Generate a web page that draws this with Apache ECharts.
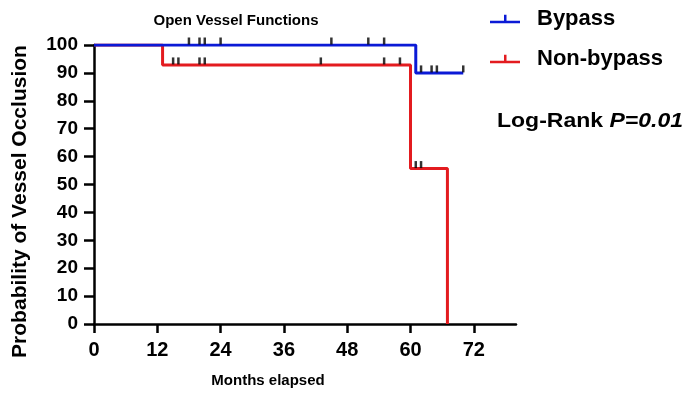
<!DOCTYPE html>
<html><head><meta charset="utf-8">
<script src="https://cdn.jsdelivr.net/npm/echarts@6/dist/echarts.min.js"></script>
<style>html,body{margin:0;padding:0;background:#fff}#c{width:685px;height:393px}</style>
</head><body><div id="c"></div>
<script>
// Kaplan-Meier step data
const bypassTimes = [0, 61, 70];
const bypassSurv = [100, 90, 90];
const nonBypassTimes = [0, 13, 60, 67];
const nonBypassSurv = [100, 92.86, 55.71, 0];
// censored observations
const bypassCensorTimes = [18, 20, 21, 24, 45, 52, 55, 62, 64, 65, 70];
const bypassCensorSurv = [100, 100, 100, 100, 100, 100, 100, 90, 90, 90, 90];
const nonBypassCensorTimes = [15, 16, 20, 21, 43, 55, 58, 61, 62];
const nonBypassCensorSurv = [92.86, 92.86, 92.86, 92.86, 92.86, 92.86, 92.86, 55.71, 55.71];
const xTicks = [0, 12, 24, 36, 48, 60, 72];
const seriesNames = ['Bypass', 'Non-bypass'];

const zip = (a, b) => a.map((v, i) => [v, b[i]]);
const FONT = 'Liberation Sans, Arial, sans-serif';
const BLUE = '#0b1ad6', RED = '#e31b1f';
const legendIcon = 'path://M0,9 L30,9 L30,11.5 L0,11.5 Z M14,3 L16.5,3 L16.5,9 L14,9 Z';

const chart = echarts.init(document.getElementById('c'));
chart.setOption({
  animation: false,
  backgroundColor: '#fff',
  title: {
    text: 'Open Vessel Functions', left: 231, top: 8, textAlign: 'center',
    textStyle: { fontFamily: FONT, fontWeight: 'bold', fontSize: 15, color: '#000' }
  },
  legend: {
    data: seriesNames.map(n => ({ name: n, icon: legendIcon })),
    orient: 'vertical', left: 485, top: 3, itemWidth: 30, itemHeight: 20, itemGap: 18,
    textStyle: { fontFamily: FONT, fontWeight: 'bold', fontSize: 22, color: '#000', padding: [0, 0, 0, 12] }
  },
  graphic: [{
    type: 'text', x: 497, y: 121, scaleX: 1.15, originX: 0,
    style: {
      text: '{a|Log-Rank }{b|P=0.01}', verticalAlign: 'middle',
      rich: {
        a: { fontFamily: FONT, fontWeight: 'bold', fontSize: 20, fill: '#000' },
        b: { fontFamily: FONT, fontWeight: 'bold', fontStyle: 'italic', fontSize: 20, fill: '#000' }
      }
    }
  }],
  grid: { left: 94, right: 169, top: 45, bottom: 66, containLabel: false },
  xAxis: {
    type: 'value', min: 0, max: 80,
    name: 'Months elapsed', nameLocation: 'middle', nameGap: 49,
    nameTextStyle: { fontFamily: FONT, fontWeight: 'bold', fontSize: 15, color: '#000', padding: [0, 74, 0, 0] },
    axisLine: { lineStyle: { color: '#000', width: 2.5 } },
    axisTick: { customValues: xTicks, length: 9, lineStyle: { color: '#000', width: 2.5 } },
    axisLabel: { customValues: xTicks, fontFamily: FONT, fontWeight: 'bold', fontSize: 20, color: '#000', margin: 16 },
    splitLine: { show: false }
  },
  yAxis: {
    type: 'value', min: 0, max: 100, interval: 10,
    name: 'Probability of Vessel Occlusion', nameLocation: 'middle', nameGap: 63,
    nameTextStyle: { fontFamily: FONT, fontWeight: 'bold', fontSize: 21, color: '#000', padding: [0, 34, 0, 0] },
    axisLine: { show: true, lineStyle: { color: '#000', width: 2.5 } },
    axisTick: { show: true, length: 10, lineStyle: { color: '#000', width: 2.5 } },
    axisLabel: { fontFamily: FONT, fontWeight: 'bold', fontSize: 19, color: '#000', margin: 16 },
    splitLine: { show: false }
  },
  series: [
    { name: seriesNames[0], type: 'line', step: 'end', data: zip(bypassTimes, bypassSurv),
      showSymbol: false, color: BLUE, lineStyle: { color: BLUE, width: 3 }, z: 3 },
    { name: seriesNames[1], type: 'line', step: 'end', data: zip(nonBypassTimes, nonBypassSurv),
      showSymbol: false, color: RED, lineStyle: { color: RED, width: 3 }, z: 2 },
    { name: 'bypass-censor', type: 'scatter', data: zip(bypassCensorTimes, bypassCensorSurv),
      symbol: 'rect', symbolSize: [2.5, 7], symbolOffset: [0, -4], itemStyle: { color: '#000' }, z: 4 },
    { name: 'nonbypass-censor', type: 'scatter', data: zip(nonBypassCensorTimes, nonBypassCensorSurv),
      symbol: 'rect', symbolSize: [2.5, 7], symbolOffset: [0, -4], itemStyle: { color: '#000' }, z: 4 }
  ]
});
</script></body></html>
